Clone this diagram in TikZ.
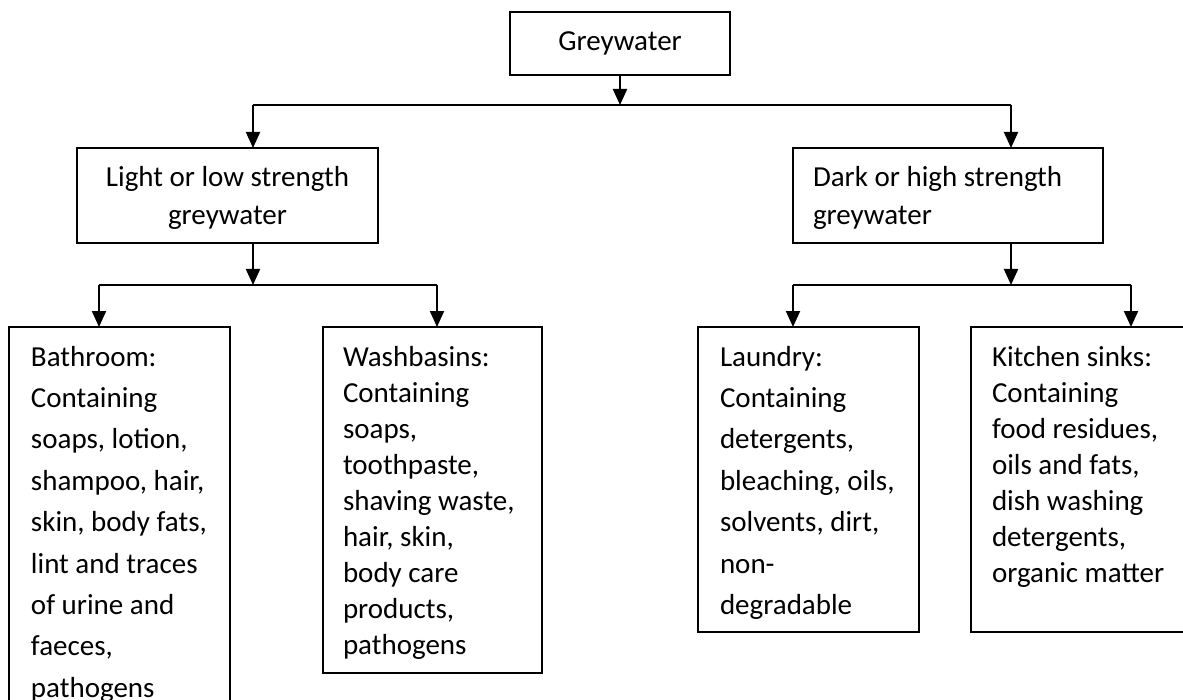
\documentclass[tikz,border=0pt]{standalone}
\usepackage{fontspec}
\setmainfont{Carlito}
\usetikzlibrary{calc,arrows.meta}
\tikzset{
	box/.style={draw, line width=1pt, anchor=north west, inner ysep=0pt, outer sep=0pt},
	link/.style={line width=1pt},
	arr/.style={link, -{Triangle[width=7pt,length=8pt]}},
}
% width, height, baselineskip, text
\newcommand{\boxtext}[4]{\parbox[t][#2][t]{#1}{\fontsize{14.5pt}{#3}\selectfont\raggedright\rule{0pt}{19.5pt}#4}}

\begin{document}
\begin{tikzpicture}[x=0.5pt,y=-0.5pt]
\useasboundingbox (0,0) rectangle (1183,700);

\node[box,inner xsep=0pt] (grey) at (510,12) {\boxtext{110pt}{31.5pt}{19pt}{\centering Greywater}};

\node[box,inner xsep=0pt] (light) at (77,148) {\boxtext{150.5pt}{47.5pt}{19pt}{\centering Light or low strength\\greywater}};
\node[box,inner xsep=10pt] (dark) at (793,148) {\boxtext{135pt}{47.5pt}{19pt}{Dark or high strength\\greywater}};

\node[box,inner xsep=11pt] (bath) at (9,327) {\boxtext{88.5pt}{206.5pt}{20.7pt}{Bathroom:\\Containing\\soaps, lotion,\\shampoo, hair,\\skin, body fats,\\lint and traces\\of urine and\\faeces,\\pathogens}};
\node[box,inner xsep=10pt] (wash) at (323,327) {\boxtext{89.5pt}{173pt}{18pt}{Washbasins:\\Containing\\soaps,\\toothpaste,\\shaving waste,\\hair, skin,\\body care\\products,\\pathogens}};
\node[box,inner xsep=11pt] (laund) at (698,327) {\boxtext{88.5pt}{152.5pt}{20.7pt}{Laundry:\\Containing\\detergents,\\bleaching, oils,\\solvents, dirt,\\non-\\degradable}};
\node[box,inner xsep=10.5pt] (kitch) at (971,327) {\boxtext{91.5pt}{152.5pt}{18pt}{Kitchen sinks:\\Containing\\food residues,\\oils and fats,\\dish washing\\detergents,\\organic matter}};

\coordinate (tl) at (253,105);
\coordinate (tr) at (1011,105);
\coordinate (ljoin) at (253,285);
\coordinate (ll) at (99,285);
\coordinate (lr) at (437,285);
\coordinate (rjoin) at (1011,285);
\coordinate (rl) at (793,285);
\coordinate (rr) at (1131,285);

\draw[arr] (grey.south) -- (grey.south |- tl);
\draw[link] (tl) -- (tr);
\draw[arr] (tl) -- (tl |- light.north);
\draw[arr] (tr) -- (tr |- dark.north);

\draw[arr] (ljoin |- light.south) -- (ljoin);
\draw[link] (ll) -- (lr);
\draw[arr] (ll) -- (ll |- bath.north);
\draw[arr] (lr) -- (lr |- wash.north);

\draw[arr] (rjoin |- dark.south) -- (rjoin);
\draw[link] (rl) -- (rr);
\draw[arr] (rl) -- (rl |- laund.north);
\draw[arr] (rr) -- (rr |- kitch.north);
\end{tikzpicture}
\end{document}
